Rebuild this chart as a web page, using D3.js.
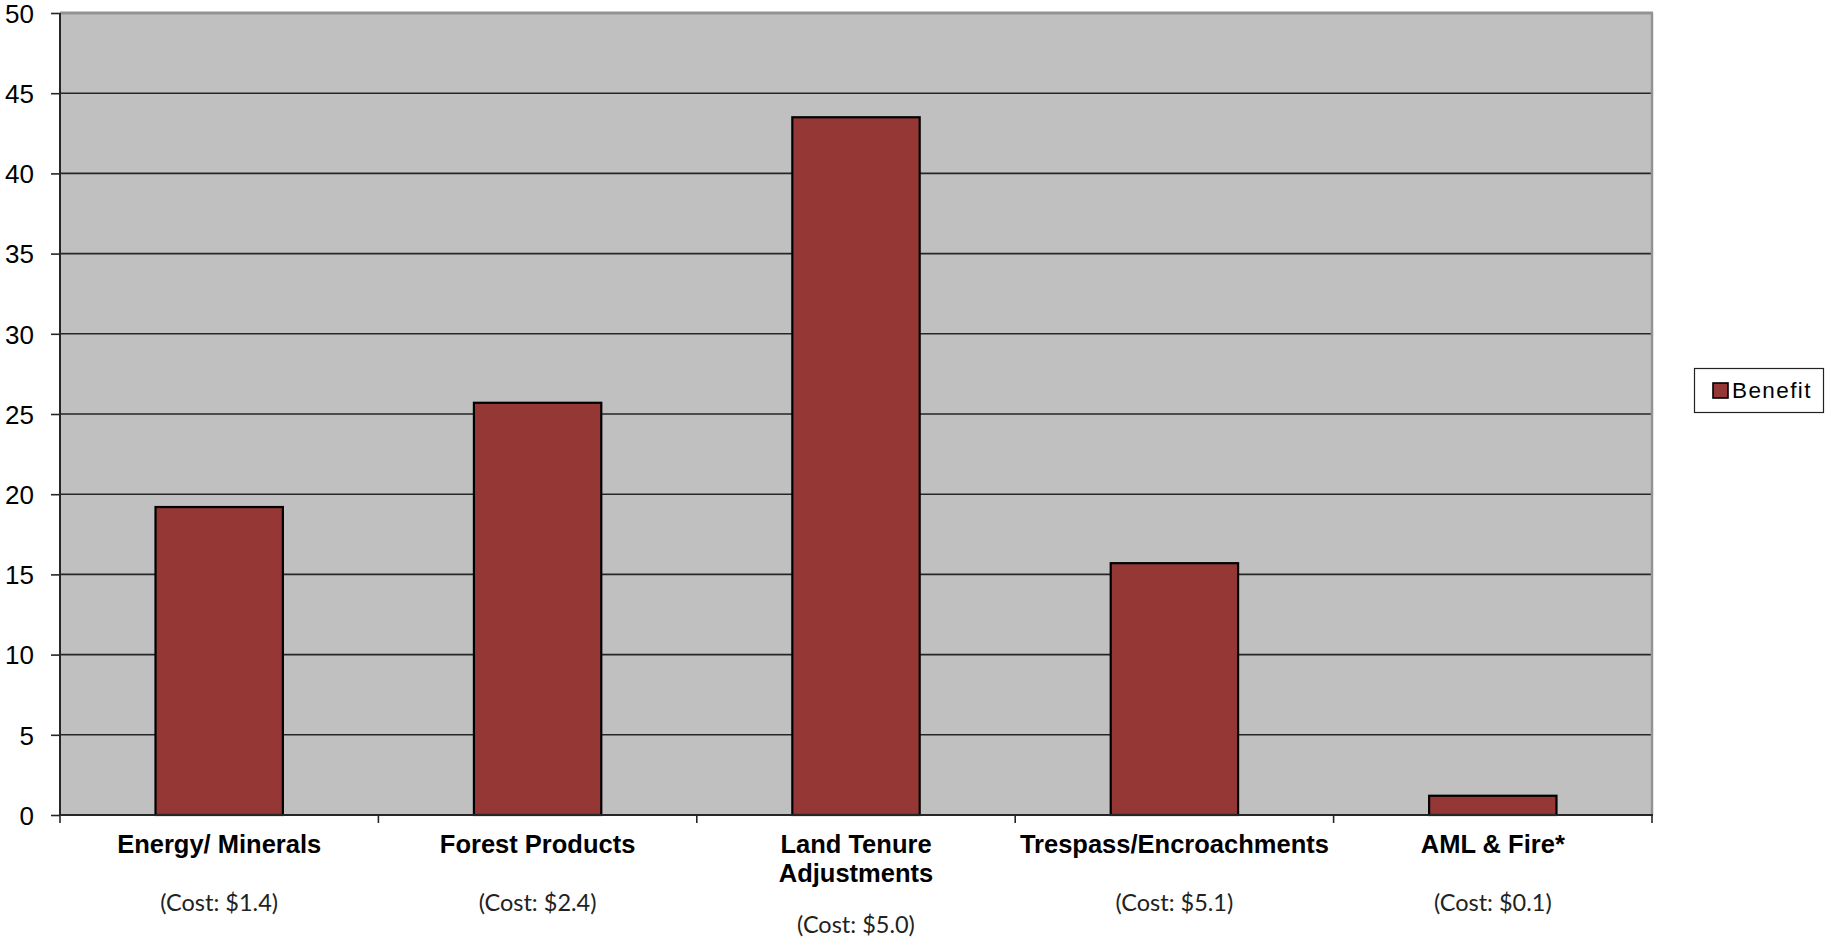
<!DOCTYPE html>
<html>
<head>
<meta charset="utf-8">
<script src="https://cdn.jsdelivr.net/npm/d3@7/dist/d3.min.js"></script>
<style>
  html, body { margin: 0; padding: 0; background: #ffffff; }
  svg { display: block; }
</style>
</head>
<body>
<svg id="chart" width="1825" height="939"></svg>
<script>
// ---- data ----
const categories = ["Energy/ Minerals", "Forest Products", "Land Tenure\nAdjustments", "Trespass/Encroachments", "AML & Fire*"];
const benefit = [19.2, 25.7, 43.5, 15.7, 1.2];
const costs = [1.4, 2.4, 5.0, 5.1, 0.1];
const yTicks = [0, 5, 10, 15, 20, 25, 30, 35, 40, 45, 50];
const seriesName = "Benefit";

// ---- layout ----
const svg = d3.select("#chart");
const plotL = 60, plotR = 1652, plotT = 13, plotB = 815;

const x = d3.scaleBand()
  .domain(categories)
  .range([plotL, plotR])
  .paddingInner(0.6)
  .paddingOuter(0.3);

const y = d3.scaleLinear().domain([0, 50]).range([plotB, plotT]);

// plot background
svg.append("rect")
  .attr("x", plotL).attr("y", plotT)
  .attr("width", plotR - plotL).attr("height", plotB - plotT)
  .attr("fill", "#c0c0c0");

// gridlines
svg.append("g").selectAll("line")
  .data(yTicks.filter(d => d > 0 && d < 50))
  .join("line")
  .attr("x1", plotL).attr("x2", plotR)
  .attr("y1", d => y(d)).attr("y2", d => y(d))
  .attr("stroke", "#262626").attr("stroke-width", 1.6);

// top and right border
svg.append("line").attr("x1", plotL).attr("x2", plotR + 1)
  .attr("y1", plotT).attr("y2", plotT)
  .attr("stroke", "#939393").attr("stroke-width", 3);
svg.append("line").attr("x1", plotR).attr("x2", plotR)
  .attr("y1", plotT).attr("y2", plotB)
  .attr("stroke", "#939393").attr("stroke-width", 2.5);

// bars
svg.append("g").selectAll("rect")
  .data(categories)
  .join("rect")
  .attr("x", d => x(d))
  .attr("width", x.bandwidth())
  .attr("y", (d, i) => y(benefit[i]))
  .attr("height", (d, i) => y(0) - y(benefit[i]))
  .attr("fill", "#953735")
  .attr("stroke", "#000000")
  .attr("stroke-width", 2.2);

// y axis
const yAxis = d3.axisLeft(y)
  .tickValues(yTicks)
  .tickSize(9)
  .tickPadding(17)
  .tickFormat(d3.format("d"));
const gy = svg.append("g").attr("transform", `translate(${plotL},0)`).call(yAxis);
gy.select(".domain").attr("stroke", "#262626").attr("stroke-width", 2).attr("d", `M0,${plotT}V${plotB}`);
gy.selectAll(".tick line").attr("stroke", "#262626").attr("stroke-width", 1.6);
gy.selectAll(".tick text")
  .attr("font-family", "'Liberation Sans', Arial, sans-serif")
  .attr("font-size", 26)
  .attr("fill", "#000")
  .attr("dy", "0.36em");

// x axis line and ticks at category boundaries
svg.append("line").attr("x1", plotL - 1).attr("x2", plotR + 1)
  .attr("y1", plotB).attr("y2", plotB)
  .attr("stroke", "#262626").attr("stroke-width", 2);
const bounds = d3.range(categories.length + 1).map(i => plotL + i * x.step());
svg.append("g").selectAll("line")
  .data(bounds)
  .join("line")
  .attr("x1", d => d).attr("x2", d => d)
  .attr("y1", plotB).attr("y2", plotB + 8)
  .attr("stroke", "#262626").attr("stroke-width", 1.6);

// category labels
const cx = d => x(d) + x.bandwidth() / 2;
const labels = svg.append("g")
  .attr("font-family", "'Liberation Sans', Arial, sans-serif")
  .attr("font-weight", "bold")
  .attr("font-size", 25.5)
  .attr("fill", "#000")
  .attr("text-anchor", "middle");
categories.forEach((c, i) => {
  const lines = c.split("\n");
  const t = labels.append("text").attr("x", cx(c)).attr("y", 853);
  lines.forEach((ln, j) => {
    t.append("tspan").attr("x", cx(c)).attr("dy", j === 0 ? 0 : 29).text(ln);
  });
  svg.append("text")
    .attr("x", cx(c))
    .attr("y", 911 + (lines.length - 1) * 22)
    .attr("text-anchor", "middle")
    .attr("font-family", "Lato, 'Open Sans', sans-serif")
    .attr("font-size", 23.5)
    .attr("fill", "#222")
    .text(`(Cost: $${costs[i].toFixed(1)})`);
});

// legend
const lg = svg.append("g");
lg.append("rect").attr("x", 1694.5).attr("y", 368.5).attr("width", 129).attr("height", 44)
  .attr("fill", "#fff").attr("stroke", "#222").attr("stroke-width", 1.2);
lg.append("rect").attr("x", 1713).attr("y", 383).attr("width", 15).attr("height", 15)
  .attr("fill", "#953735").attr("stroke", "#000").attr("stroke-width", 1.6);
lg.append("text").attr("x", 1732).attr("y", 398)
  .attr("font-family", "'Liberation Sans', Arial, sans-serif")
  .attr("font-size", 22.5)
  .attr("letter-spacing", 1.4)
  .attr("fill", "#000")
  .text(seriesName);
</script>
</body>
</html>
